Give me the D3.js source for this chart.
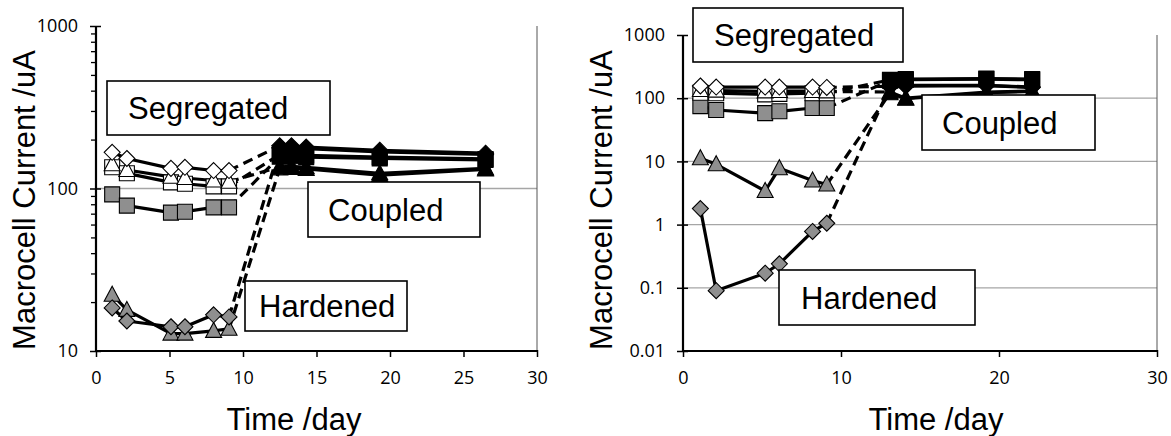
<!DOCTYPE html>
<html>
<head>
<meta charset="utf-8">
<script src="https://cdn.jsdelivr.net/npm/d3@7"></script>
<style>
  html, body { margin: 0; padding: 0; background: #fff; }
  svg { display: block; }
  .tick text { font-family: "Open Sans", "Liberation Sans", sans-serif; font-size: 18px; fill: #000; }
  .title { font-family: "Liberation Sans", Arial, sans-serif; font-size: 31px; fill: #000; }
  .boxlabel { font-family: "Liberation Sans", Arial, sans-serif; font-size: 31px; fill: #000; }
</style>
</head>
<body>
<svg id="chart" width="1171" height="436"></svg>
<script>
// ---- Left panel: measurement days ----
const leftSegDays = [1.1, 2.1, 5.1, 6.05, 8.0, 9.05];
const leftCoupDays = [12.5, 13.3, 14.3, 19.3, 26.5];

// Segregated stage (uA)
const leftOpenDiamond  = [167, 153, 133, 135, 129, 129];
const leftOpenTriangle = [141, 130, 118, 116, 112, 110];
const leftOpenSquare   = [135, 124, 109, 107, 103, 103];
const leftGraySquare   = [92, 78.5, 71, 72, 76.5, 76.5];
const leftGrayTriangle = [22.2, 17.9, 12.8, 12.8, 13.3, 13.7];
const leftGrayDiamond  = [18.4, 15.3, 14.1, 14.1, 16.7, 16.2];

// Coupled stage (uA)
const leftCoupDiamondA  = [183, 183, 180, 172, 165];
const leftCoupDiamondB  = [178, 179, 176, 168, 162];
const leftCoupSquareA   = [162, 163, 160, 156, 152];
const leftCoupSquareB   = [157, 158, 156, 153, 150];
const leftCoupTriangleA = [136, 137, 135, 124, 133];
const leftCoupTriangleB = [133, 134, 132, 121, 131];

// ---- Right panel: measurement days ----
const rightSegDays = [1.1, 2.1, 5.2, 6.1, 8.2, 9.1];
const rightCoupDays = [13.1, 14.1, 19.2, 22.1];

const rightOpenDiamond  = [156, 150, 150, 150, 150, 148];
const rightOpenTriangle = [135, 132, 128, 130, 130, 128];
const rightOpenSquare   = [122, 120, 115, 117, 120, 120];
const rightGraySquare   = [75, 65, 58, 62, 70, 70];
const rightGrayTriangle = [11.2, 9.0, 3.4, 7.8, 5.0, 4.3];
const rightGrayDiamond  = [1.79, 0.09, 0.17, 0.24, 0.78, 1.05];

const rightCoupDiamondA  = [155, 160, 160, 150];
const rightCoupDiamondB  = [150, 155, 158, 148];
const rightCoupSquareA   = [195, 200, 205, 200];
const rightCoupSquareB   = [190, 196, 200, 196];
const rightCoupTriangleA = [125, 100, 125, 130];
const rightCoupTriangleB = [120, 98, 122, 128];

// ---- Tick labels ----
const leftXTicks = [0, 5, 10, 15, 20, 25, 30];
const rightXTicks = [0, 10, 20, 30];
const leftYTicks = [10, 100, 1000];
const rightYTicks = [0.01, 0.1, 1, 10, 100, 1000];

const svg = d3.select("#chart");
const GRAY = "#8f8f8f";

function markerPath(shape) {
  if (shape === "diamond") return "M0,-8L8,0L0,8L-8,0Z";
  if (shape === "square") return "M-7.5,-7.5H7.5V7.5H-7.5Z";
  return "M0,-8.5L8,6.5H-8Z"; // triangle
}

function drawPanel(cfg) {
  const g = svg.append("g");
  const x = d3.scaleLinear().domain([0, 30]).range([cfg.x0, cfg.x1]);
  const y = d3.scaleLog().domain(cfg.yDomain).range([351, cfg.yTop]);

  // gridlines
  g.append("g").selectAll("line")
    .data(cfg.grid)
    .join("line")
    .attr("x1", cfg.x0).attr("x2", cfg.x1)
    .attr("y1", d => y(d)).attr("y2", d => y(d))
    .attr("stroke", "#a6a6a6").attr("stroke-width", 1.3);

  // right frame edge
  g.append("line")
    .attr("x1", cfg.x1).attr("x2", cfg.x1)
    .attr("y1", cfg.yTop).attr("y2", 351)
    .attr("stroke", "#555").attr("stroke-width", 1);

  // minor ticks (log)
  if (cfg.minor) {
    const minors = [];
    for (let dec = cfg.yDomain[0]; dec < cfg.yDomain[1]; dec *= 10)
      for (let k = 2; k <= 9; k++) minors.push(dec * k);
    g.append("g")
      .attr("transform", `translate(${cfg.x0},0)`)
      .call(d3.axisLeft(y).tickValues(minors).tickFormat("").tickSize(5))
      .call(s => s.select(".domain").remove())
      .call(s => s.selectAll("line").attr("stroke", "#000").attr("stroke-width", 1.3));
  }

  // y axis
  g.append("g")
    .attr("transform", `translate(${cfg.x0},0)`)
    .call(d3.axisLeft(y).tickValues(cfg.yTicks).tickFormat(d => String(d)).tickSize(6).tickPadding(12))
    .call(s => s.select(".domain").attr("stroke-width", 2.2).attr("d", `M0,${cfg.yTop}V351`))
    .call(s => s.selectAll(".tick line").attr("x1", 5).attr("stroke-width", 1.5));

  // x axis
  g.append("g")
    .attr("transform", "translate(0,351)")
    .call(d3.axisBottom(x).tickValues(cfg.xTicks).tickSize(6).tickPadding(14))
    .call(s => s.select(".domain").attr("stroke-width", 2.2).attr("d", `M${cfg.x0},0H${cfg.x1}`))
    .call(s => s.selectAll(".tick line").attr("y1", -1).attr("stroke-width", 1.5));

  const line = d3.line().x(d => x(d[0])).y(d => y(d[1]));

  // dashed transitions between stages
  cfg.series.forEach(s => {
    const a = [cfg.segDays[cfg.segDays.length - 1], s.seg[s.seg.length - 1]];
    const b = [cfg.coupDays[0], s.coup[0]];
    g.append("path").attr("d", line([a, b]))
      .attr("fill", "none").attr("stroke", "#000")
      .attr("stroke-width", 3.2).attr("stroke-dasharray", "10,6");
  });

  // solid stage lines
  cfg.series.forEach(s => {
    g.append("path").attr("d", line(cfg.segDays.map((d, i) => [d, s.seg[i]])))
      .attr("fill", "none").attr("stroke", "#000").attr("stroke-width", 3.2)
      .attr("stroke-linejoin", "round");
    g.append("path").attr("d", line(cfg.coupDays.map((d, i) => [d, s.coup[i]])))
      .attr("fill", "none").attr("stroke", "#000").attr("stroke-width", 3.2)
      .attr("stroke-linejoin", "round");
  });

  // markers
  cfg.series.forEach(s => {
    g.append("g").selectAll("path")
      .data(cfg.segDays.map((d, i) => [d, s.seg[i]]))
      .join("path")
      .attr("d", markerPath(s.shape))
      .attr("transform", d => `translate(${x(d[0])},${y(d[1])})`)
      .attr("fill", s.fill).attr("stroke", "#000").attr("stroke-width", 1.1);
    g.append("g").selectAll("path")
      .data(cfg.coupDays.map((d, i) => [d, s.coup[i]]))
      .join("path")
      .attr("d", markerPath(s.shape))
      .attr("transform", d => `translate(${x(d[0])},${y(d[1])})`)
      .attr("fill", "#000").attr("stroke", "#000").attr("stroke-width", 1.1);
  });

  // stage label boxes
  cfg.boxes.forEach(b => {
    g.append("rect").attr("x", b.x).attr("y", b.y).attr("width", b.w).attr("height", b.h)
      .attr("fill", "#fff").attr("stroke", "#000").attr("stroke-width", 1.6);
    g.append("text").attr("class", "boxlabel")
      .attr("x", b.x + b.pad).attr("y", b.y + b.h / 2 + 11).text(b.text);
  });

  // axis titles
  g.append("text").attr("class", "title")
    .attr("transform", `translate(${cfg.yTitleX},200) rotate(-90)`)
    .attr("text-anchor", "middle").text("Macrocell Current /uA");
  g.append("text").attr("class", "title")
    .attr("x", cfg.xTitleX).attr("y", 430)
    .attr("text-anchor", "middle").text("Time /day");
}

drawPanel({
  x0: 96, x1: 537, yTop: 26, yDomain: [10, 1000],
  grid: [100], minor: true,
  xTicks: leftXTicks, yTicks: leftYTicks,
  segDays: leftSegDays, coupDays: leftCoupDays,
  series: [
    { shape: "triangle", fill: GRAY, seg: leftGrayTriangle, coup: leftCoupTriangleB },
    { shape: "diamond", fill: GRAY, seg: leftGrayDiamond, coup: leftCoupDiamondB },
    { shape: "square", fill: GRAY, seg: leftGraySquare, coup: leftCoupSquareB },
    { shape: "square", fill: "#fff", seg: leftOpenSquare, coup: leftCoupSquareA },
    { shape: "triangle", fill: "#fff", seg: leftOpenTriangle, coup: leftCoupTriangleA },
    { shape: "diamond", fill: "#fff", seg: leftOpenDiamond, coup: leftCoupDiamondA }
  ],
  boxes: [
    { text: "Segregated", x: 107, y: 81, w: 223, h: 54, pad: 21 },
    { text: "Coupled", x: 308, y: 182, w: 172, h: 55, pad: 20 },
    { text: "Hardened", x: 245, y: 281, w: 162, h: 50, pad: 14 }
  ],
  yTitleX: 35, xTitleX: 294
});

drawPanel({
  x0: 683, x1: 1157, yTop: 35, yDomain: [0.01, 1000],
  grid: [0.1, 1, 10, 100], minor: false,
  xTicks: rightXTicks, yTicks: rightYTicks,
  segDays: rightSegDays, coupDays: rightCoupDays,
  series: [
    { shape: "diamond", fill: GRAY, seg: rightGrayDiamond, coup: rightCoupDiamondB },
    { shape: "triangle", fill: GRAY, seg: rightGrayTriangle, coup: rightCoupTriangleB },
    { shape: "square", fill: GRAY, seg: rightGraySquare, coup: rightCoupSquareB },
    { shape: "square", fill: "#fff", seg: rightOpenSquare, coup: rightCoupSquareA },
    { shape: "triangle", fill: "#fff", seg: rightOpenTriangle, coup: rightCoupTriangleA },
    { shape: "diamond", fill: "#fff", seg: rightOpenDiamond, coup: rightCoupDiamondA }
  ],
  boxes: [
    { text: "Segregated", x: 693, y: 8, w: 210, h: 54, pad: 21 },
    { text: "Coupled", x: 922, y: 95, w: 173, h: 55, pad: 20 },
    { text: "Hardened", x: 779, y: 270, w: 196, h: 55, pad: 22 }
  ],
  yTitleX: 612, xTitleX: 936
});
</script>
</body>
</html>
